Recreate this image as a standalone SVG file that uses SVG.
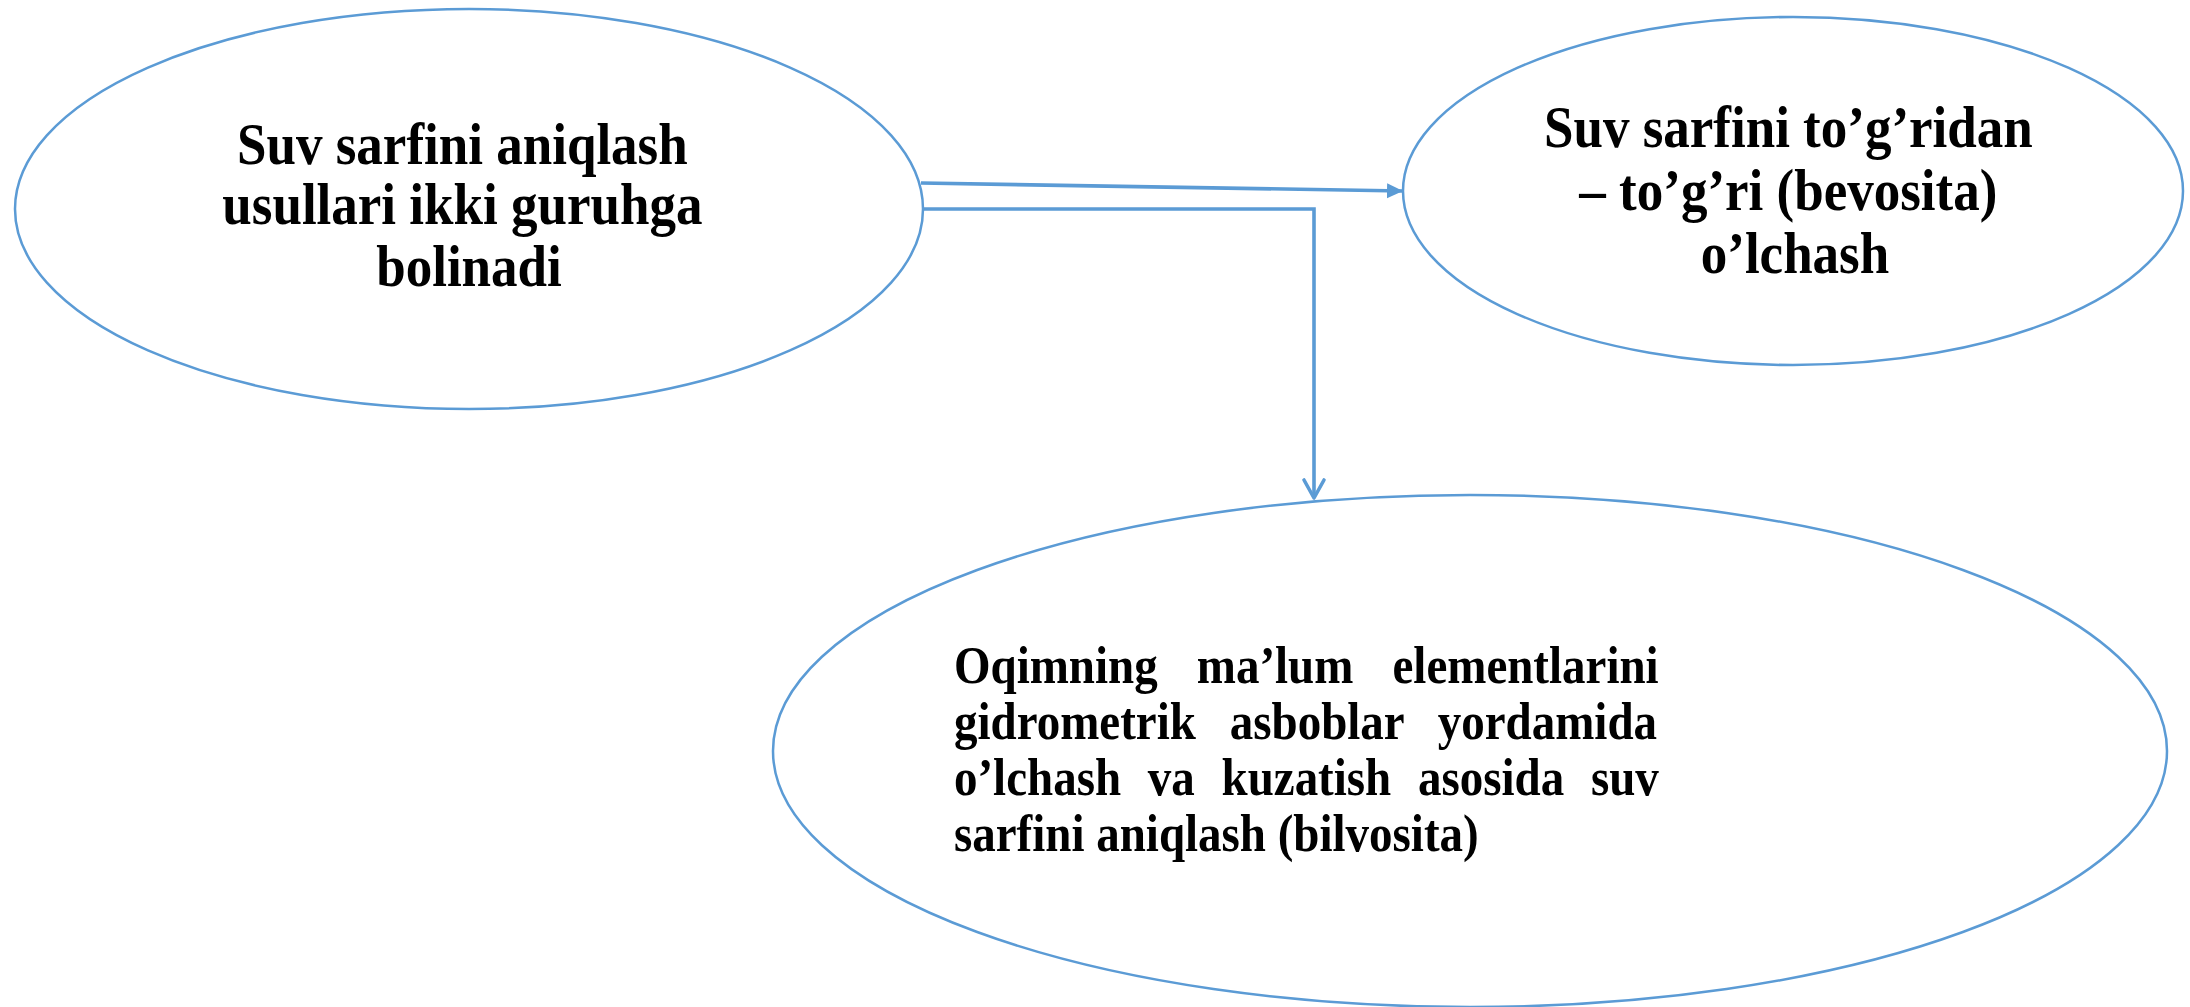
<svg xmlns="http://www.w3.org/2000/svg" width="2190" height="1007" viewBox="0 0 2190 1007">
  <defs>
    <style>
      .node { fill: #ffffff; stroke: #5B9BD5; stroke-width: 2.5; }
      .label { font-family: "Liberation Serif", "Times New Roman", serif; font-weight: bold; fill: #000000; }
      .big { font-size: 53px; text-anchor: middle; }
      .body { font-size: 47px; }
      .link { fill: none; stroke: #5B9BD5; stroke-width: 3.6; }
    </style>
    <marker id="tri" markerUnits="userSpaceOnUse" markerWidth="18" markerHeight="18" viewBox="0 0 18 18" refX="16" refY="9" orient="auto">
      <path d="M0,1.5 L16,9 L0,16.5 Z" fill="#5B9BD5"/>
    </marker>
    <marker id="vee" markerUnits="userSpaceOnUse" markerWidth="26" markerHeight="26" viewBox="0 0 26 26" refX="21" refY="13" orient="auto">
      <path d="M3,3 L21,13 L3,23" fill="none" stroke="#5B9BD5" stroke-width="3.6" stroke-linecap="round" stroke-linejoin="round"/>
    </marker>
  </defs>

  <g id="connectors">
    <line class="link" x1="921" y1="183" x2="1403" y2="191" marker-end="url(#tri)"/>
    <polyline class="link" points="923,209 1314,209 1314,498" marker-end="url(#vee)"/>
  </g>

  <!-- label glyphs are drawn slightly tall: the text is scaled 1.13 vertically, so y values are baseline / 1.13 -->
  <g id="node-methods">
    <ellipse class="node" cx="469" cy="209" rx="454" ry="200"/>
    <text class="label big" transform="scale(1,1.13)">
      <tspan x="469" y="145.1">Suv sarfini aniqlash</tspan>
      <tspan x="469" y="198.2">usullari ikki guruhga</tspan>
      <tspan x="469" y="253.1">bolinadi</tspan>
    </text>
  </g>

  <g id="node-direct">
    <ellipse class="node" cx="1793" cy="191" rx="390" ry="174"/>
    <text class="label big" transform="scale(1,1.13)">
      <tspan x="1795" y="130.1">Suv sarfini to’g’ridan</tspan>
      <tspan x="1795" y="185.8">– to’g’ri (bevosita)</tspan>
      <tspan x="1795" y="241.6">o’lchash</tspan>
    </text>
  </g>

  <g id="node-indirect">
    <ellipse class="node" cx="1470" cy="751" rx="697" ry="256"/>
    <text class="label body" transform="scale(1,1.13)">
      <tspan x="954" y="604.4" word-spacing="27.4">Oqimning ma’lum elementlarini</tspan>
      <tspan x="954" y="654.0" word-spacing="22.2">gidrometrik asboblar yordamida</tspan>
      <tspan x="954" y="703.5" word-spacing="15">o’lchash va kuzatish asosida suv</tspan>
      <tspan x="954" y="753.1">sarfini aniqlash (bilvosita)</tspan>
    </text>
  </g>
</svg>
